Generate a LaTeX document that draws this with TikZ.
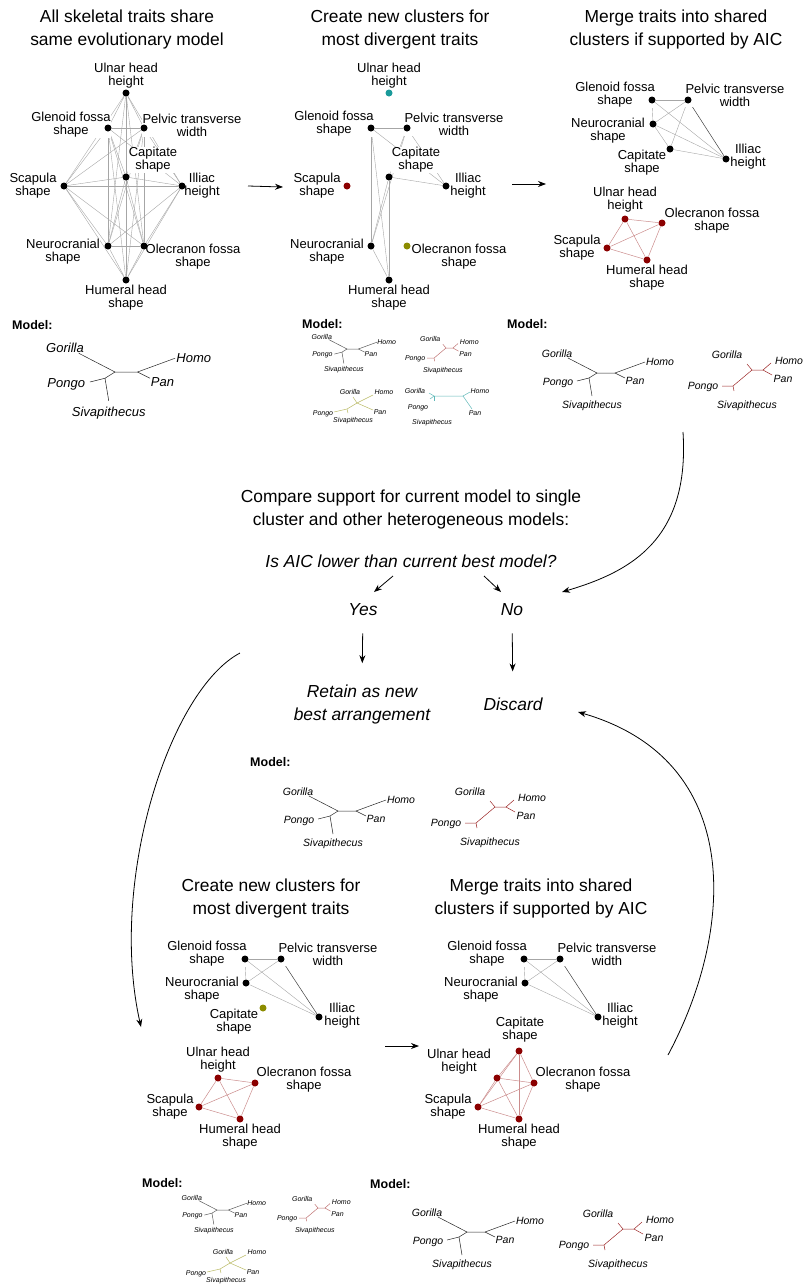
\documentclass[tikz,border=0pt]{standalone}
\usepackage{fontspec}
\setmainfont{Liberation Sans}
\usetikzlibrary{arrows.meta,backgrounds}
\usepackage{xcolor}

\definecolor{clred}{HTML}{8B0000}
\definecolor{clteal}{HTML}{1A9A9A}
\definecolor{clolive}{HTML}{8C8C00}

\tikzset{
  pics/apetree/.style={code={
    \draw[branch] (-29,-15) -- (0,0) -- (18,0) -- (48,-11);
    \draw[branch] (18,0) -- (28,5);
    \draw[branch] (0,0) -- (-8,5) -- (-20,8);
    \draw[branch] (-8,5) -- (-5,23);
    \node[taxon] (-gor) at (-40,-19) {Gorilla};
    \node[taxon] (-hom) at (63,-11) {Homo};
    \node[taxon] (-pon) at (-39,10) {Pongo};
    \node[taxon] (-pan) at (38,8) {Pan};
    \node[taxon] (-siv) at (-5,33) {Sivapithecus};
  }},
  pics/redtree/.style={code={
    \draw[rbranch] (-5,-6) -- (0,0) -- (11,0) -- (19,-7);
    \draw[rbranch] (11,0) -- (20,5);
    \draw[rbranch] (0,0) -- (-19,16) -- (-30,16);
    \draw[rbranch] (-19,16) -- (-18,21);
    \node[taxon] (-gor) at (-25,-15) {Gorilla};
    \node[taxon] (-hom) at (37,-9) {Homo};
    \node[taxon] (-pon) at (-49,17) {Pongo};
    \node[taxon] (-pan) at (31,9) {Pan};
    \node[taxon] (-siv) at (-5,36) {Sivapithecus};
  }},
  pics/olivetree/.style={code={
    \draw[obranch] (-4,-6) -- (0,0) -- (16,-8);
    \draw[obranch] (0,0) -- (16,7);
    \draw[obranch] (0,0) -- (-10,6) -- (-23,9);
    \draw[obranch] (-10,6) -- (-9,10);
    \node[tinytaxon] (-gor) at (-7,-11) {Gorilla};
    \node[tinytaxon] (-hom) at (27,-11) {Homo};
    \node[tinytaxon] (-pon) at (-34,11) {Pongo};
    \node[tinytaxon] (-pan) at (23,9) {Pan};
    \node[tinytaxon] (-siv) at (-4,18) {Sivapithecus};
  }},
  pics/tealtree/.style={code={
    \draw[tbranch] (-29,0) -- (0,0) -- (7,-4);
    \draw[tbranch] (0,0) -- (9,13);
    \draw[tbranch] (-29,0) -- (-34,-3);
    \draw[tbranch] (-29,0) -- (-33,3);
    \draw[tbranch] (-29,0) -- (-29,5);
    \node[tinytaxon] (-gor) at (-48,-5) {Gorilla};
    \node[tinytaxon] (-hom) at (17,-5) {Homo};
    \node[tinytaxon] (-pon) at (-45,12) {Pongo};
    \node[tinytaxon] (-pan) at (12,17) {Pan};
    \node[tinytaxon] (-siv) at (-31,27) {Sivapithecus};
  }},
}

\begin{document}
\begin{tikzpicture}[x=1pt, y=-1pt,
    heading/.style={font=\fontsize{17.4}{23}\selectfont, align=center, inner sep=0pt},
    question/.style={font=\fontsize{17.4}{23}\selectfont\itshape, align=center, inner sep=0pt},
    trait/.style={font=\fontsize{13}{13}\selectfont, align=center, fill=white, inner sep=0.5pt},
    dot/.style={circle, fill=black, inner sep=0pt, minimum size=7pt},
    reddot/.style={dot, fill=clred},
    tealdot/.style={dot, fill=clteal},
    olivedot/.style={dot, fill=clolive},
    modelhead/.style={font=\bfseries\fontsize{12.5}{14}\selectfont, anchor=west, inner sep=0pt},
    taxon/.style={font=\fontsize{10.5}{11}\selectfont\itshape, inner sep=0pt},
    bigtaxon/.style={font=\fontsize{13}{13}\selectfont\itshape, inner sep=0pt},
    tinytaxon/.style={font=\fontsize{7}{7}\selectfont\itshape, inner sep=0pt},
    branch/.style={draw=black!85, line width=0.5pt},
    rbranch/.style={draw=clred!85, line width=0.5pt},
    obranch/.style={draw=clolive!60, line width=0.5pt},
    tbranch/.style={draw=clteal!70, line width=0.5pt},
    small/.style={scale=0.63, taxon/.style={tinytaxon},
      branch/.style={draw=black!65, line width=0.5pt},
      rbranch/.style={draw=clred!55, line width=0.5pt}},
    link/.style={draw=black!35, line width=0.4pt},
    strong/.style={draw=black!75, line width=0.5pt},
    redlink/.style={draw=clred!45, line width=0.5pt},
    flow/.style={-{Stealth[length=8pt, width=6pt]}, line width=0.8pt}
]
\useasboundingbox (0,0) rectangle (803,1285);

% headings
\node[heading] (h1) at (127,29) {All skeletal traits share\\same evolutionary model};
\node[heading] (h2) at (400,29) {Create new clusters for\\most divergent traits};
\node[heading] (h3) at (676,29) {Merge traits into shared\\clusters if supported by AIC};

% network 1: one model for all traits
\node[trait] (a-ul-t) at (126,76) {Ulnar head\\height};
\node[trait] (a-gl-t) at (71,125) {Glenoid fossa\\shape};
\node[trait] (a-pe-t) at (192,125) {Pelvic transverse\\width};
\node[trait] (a-ca-t) at (153,160) {Capitate\\shape};
\node[trait] (a-sc-t) at (33,186) {Scapula\\shape};
\node[trait] (a-il-t) at (202,186) {Illiac\\height};
\node[trait] (a-ne-t) at (63,252) {Neurocranial\\shape};
\node[trait] (a-ol-t) at (193,257) {Olecranon fossa\\shape};
\node[trait] (a-hu-t) at (126,298) {Humeral head\\shape};
\node[dot] (a-ul) at (126,93) {};
\node[dot] (a-gl) at (108,128) {};
\node[dot] (a-pe) at (144,128) {};
\node[dot] (a-ca) at (126,177) {};
\node[dot] (a-sc) at (64,186) {};
\node[dot] (a-il) at (182,186) {};
\node[dot] (a-ne) at (108,246) {};
\node[dot] (a-ol) at (144,246) {};
\node[dot] (a-hu) at (126,280) {};
\begin{pgfonlayer}{background}
\foreach \p [count=\i] in {ul,gl,pe,ca,sc,il,ne,ol,hu}
  \foreach \q [count=\j] in {ul,gl,pe,ca,sc,il,ne,ol,hu}
    {\ifnum\j>\i \draw[link] (a-\p) -- (a-\q); \fi}
\end{pgfonlayer}

% network 2: divergent traits split off
\node[trait] (b-ul-t) at (389,76) {Ulnar head\\height};
\node[trait] (b-gl-t) at (334,124) {Glenoid fossa\\shape};
\node[trait] (b-pe-t) at (454,124) {Pelvic transverse\\width};
\node[trait] (b-ca-t) at (416,160) {Capitate\\shape};
\node[trait] (b-sc-t) at (317,186) {Scapula\\shape};
\node[trait] (b-il-t) at (468,186) {Illiac\\height};
\node[trait] (b-ne-t) at (327,252) {Neurocranial\\shape};
\node[trait] (b-ol-t) at (459,257) {Olecranon fossa\\shape};
\node[trait] (b-hu-t) at (389,298) {Humeral head\\shape};
\node[tealdot] (b-ul) at (389,93) {};
\node[dot] (b-gl) at (371,128) {};
\node[dot] (b-pe) at (407,128) {};
\node[dot] (b-ca) at (389,177) {};
\node[reddot] (b-sc) at (347,186) {};
\node[dot] (b-il) at (446,186) {};
\node[dot] (b-ne) at (371,246) {};
\node[olivedot] (b-ol) at (407,246) {};
\node[dot] (b-hu) at (389,280) {};
\begin{pgfonlayer}{background}
\foreach \p/\q in {gl/pe, gl/ne, gl/hu, gl/il, pe/ca, pe/il, pe/ne, ca/ne, ca/il, ca/hu, ne/hu}
  \draw[link] (b-\p) -- (b-\q);
\end{pgfonlayer}

% network 3: merged clusters
\node[trait] (c-gl-t) at (615,95) {Glenoid fossa\\shape};
\node[trait] (c-pe-t) at (735,95) {Pelvic transverse\\width};
\node[trait] (c-ne-t) at (608,131) {Neurocranial\\shape};
\node[trait] (c-ca-t) at (642,163) {Capitate\\shape};
\node[trait] (c-il-t) at (748,157) {Illiac\\height};
\node[trait] (c-ul-t) at (625,200) {Ulnar head\\height};
\node[trait] (c-ol-t) at (712,221) {Olecranon fossa\\shape};
\node[trait] (c-sc-t) at (577,248) {Scapula\\shape};
\node[trait] (c-hu-t) at (647,278) {Humeral head\\shape};
\node[dot] (c-gl) at (652,100) {};
\node[dot] (c-pe) at (688,100) {};
\node[dot] (c-ne) at (653,124) {};
\node[dot] (c-ca) at (670,149) {};
\node[dot] (c-il) at (726,159) {};
\node[reddot] (c-ul) at (625,219) {};
\node[reddot] (c-ol) at (662,223) {};
\node[reddot] (c-sc) at (607,248) {};
\node[reddot] (c-hu) at (647,260) {};
\begin{pgfonlayer}{background}
\foreach \p/\q in {gl/pe, gl/ne, gl/il, pe/ne, pe/ca, ne/ca, ne/il, ca/il}
  \draw[link] (c-\p) -- (c-\q);
\draw[strong] (c-pe) -- (c-il);
\foreach \p/\q in {ul/ol, ul/sc, ul/hu, ol/sc, ol/hu, sc/hu}
  \draw[redlink] (c-\p) -- (c-\q);
\end{pgfonlayer}

% top arrows
\coordinate (f1s) at (248,186);
\coordinate (f1e) at (283,187);
\coordinate (f2s) at (512,184);
\coordinate (f2e) at (546,184);
\draw[flow] (f1s) -- (f1e);
\draw[flow] (f2s) -- (f2e);

% models, first row
\node[modelhead] (m1) at (12,325) {Model:};
\pic[scale=1.25, taxon/.style={bigtaxon}] (t1) at (115,372) {apetree};
\node[modelhead] (m2) at (302,324) {Model:};
\pic[small] (t2) at (347,349) {apetree};
\pic[small] (t3) at (446,348) {redtree};
\pic (t4) at (357,403) {olivetree};
\pic (t5) at (463,396) {tealtree};
\node[modelhead] (m3) at (507,324) {Model:};
\pic (t6) at (597,373) {apetree};
\pic (t7) at (752,370) {redtree};

% comparison step
\node[heading] (cmp) at (411,509) {Compare support for current model to single\\cluster and other heterogeneous models:};
\node[question] (aic) at (411,561) {Is AIC lower than current best model?};
\node[question] (yes) at (363,610) {Yes};
\node[question] (no) at (512,610) {No};
\node[question] (retain) at (362,704) {Retain as new\\best arrangement};
\node[question] (discard) at (513,704) {Discard};
\coordinate (y1s) at (393,576);
\coordinate (y1e) at (374,592);
\coordinate (n1s) at (484,576);
\coordinate (n1e) at (501,592);
\draw[flow] (y1s) -- (y1e);
\draw[flow] (n1s) -- (n1e);
\draw[flow, shorten <=17pt, shorten >=21pt] (yes) -- (retain.north);
\draw[flow, shorten <=17pt, shorten >=26pt] (no) -- (discard);
\coordinate (k1s) at (683,432);
\coordinate (k1e) at (562,592);
\draw[flow] (k1s) .. controls (690,540) and (630,572) .. (k1e);

\node[modelhead] (m4) at (250,762) {Model:};
\pic (t8) at (338,811) {apetree};
\pic (t9) at (495,807) {redtree};

% second round
\node[heading] (h4) at (271,898) {Create new clusters for\\most divergent traits};
\node[heading] (h5) at (541,898) {Merge traits into shared\\clusters if supported by AIC};

% network 4: split capitate
\node[trait] (d-gl-t) at (207,954) {Glenoid fossa\\shape};
\node[trait] (d-pe-t) at (328,954) {Pelvic transverse\\width};
\node[trait] (d-ne-t) at (202,990) {Neurocranial\\shape};
\node[trait] (d-ca-t) at (234,1022) {Capitate\\shape};
\node[trait] (d-il-t) at (342,1016) {Illiac\\height};
\node[trait] (d-ul-t) at (218,1060) {Ulnar head\\height};
\node[trait] (d-ol-t) at (304,1080) {Olecranon fossa\\shape};
\node[trait] (d-sc-t) at (170,1107) {Scapula\\shape};
\node[trait] (d-hu-t) at (240,1137) {Humeral head\\shape};
\node[dot] (d-gl) at (245,959) {};
\node[dot] (d-pe) at (281,959) {};
\node[dot] (d-ne) at (246,983) {};
\node[olivedot] (d-ca) at (263,1008) {};
\node[dot] (d-il) at (319,1017) {};
\node[reddot] (d-ul) at (218,1078) {};
\node[reddot] (d-ol) at (255,1083) {};
\node[reddot] (d-sc) at (199,1107) {};
\node[reddot] (d-hu) at (240,1119) {};
\begin{pgfonlayer}{background}
\foreach \p/\q in {gl/pe, gl/ne, gl/il, pe/ne, ne/il}
  \draw[link] (d-\p) -- (d-\q);
\draw[strong] (d-pe) -- (d-il);
\foreach \p/\q in {ul/ol, ul/sc, ul/hu, ol/sc, ol/hu, sc/hu}
  \draw[redlink] (d-\p) -- (d-\q);
\end{pgfonlayer}

% network 5: capitate joins red cluster
\node[trait] (e-gl-t) at (487,954) {Glenoid fossa\\shape};
\node[trait] (e-pe-t) at (607,954) {Pelvic transverse\\width};
\node[trait] (e-ne-t) at (481,990) {Neurocranial\\shape};
\node[trait] (e-il-t) at (620,1016) {Illiac\\height};
\node[trait] (e-ca-t) at (520,1030) {Capitate\\shape};
\node[trait] (e-ul-t) at (459,1062) {Ulnar head\\height};
\node[trait] (e-ol-t) at (583,1080) {Olecranon fossa\\shape};
\node[trait] (e-sc-t) at (448,1107) {Scapula\\shape};
\node[trait] (e-hu-t) at (519,1137) {Humeral head\\shape};
\node[dot] (e-gl) at (524,959) {};
\node[dot] (e-pe) at (560,959) {};
\node[dot] (e-ne) at (525,983) {};
\node[dot] (e-il) at (598,1017) {};
\node[reddot] (e-ca) at (519,1051) {};
\node[reddot] (e-ul) at (497,1078) {};
\node[reddot] (e-ol) at (534,1083) {};
\node[reddot] (e-sc) at (478,1107) {};
\node[reddot] (e-hu) at (519,1119) {};
\begin{pgfonlayer}{background}
\foreach \p/\q in {gl/pe, gl/ne, gl/il, pe/ne, ne/il}
  \draw[link] (e-\p) -- (e-\q);
\draw[strong] (e-pe) -- (e-il);
\foreach \p/\q in {ca/ul, ca/ol, ca/sc, ca/hu, ul/ol, ul/sc, ul/hu, ol/sc, ol/hu, sc/hu}
  \draw[redlink] (e-\p) -- (e-\q);
\end{pgfonlayer}

% loop arrows
\coordinate (g1s) at (240,653);
\coordinate (g1e) at (141,1027);
\draw[flow] (g1s) .. controls (170,690) and (108,880) .. (g1e);
\coordinate (g2s) at (385,1046);
\coordinate (g2e) at (419,1046);
\draw[flow] (g2s) -- (g2e);
\coordinate (g3s) at (668,1055);
\coordinate (g3e) at (578,712);
\draw[flow] (g3s) .. controls (735,930) and (745,760) .. (g3e);

% models, last row
\node[modelhead] (m5) at (142,1183) {Model:};
\pic[small] (t10) at (217,1210) {apetree};
\pic[small] (t11) at (318,1208) {redtree};
\pic (t12) at (230,1263) {olivetree};
\node[modelhead] (m6) at (370,1184) {Model:};
\pic (t13) at (467,1232) {apetree};
\pic (t14) at (623,1229) {redtree};
\end{tikzpicture}
\end{document}
